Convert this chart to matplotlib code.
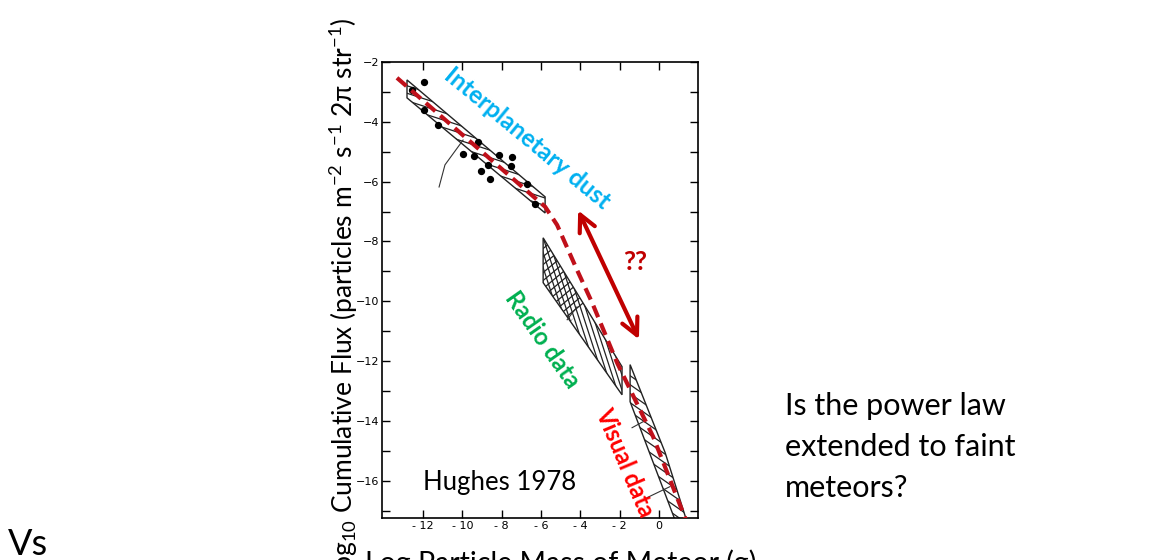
import numpy as np
import matplotlib
matplotlib.use("Agg")
import matplotlib.pyplot as plt
from matplotlib.patches import Polygon

plt.rcParams['font.family'] = ['Lato', 'DejaVu Sans']
plt.rcParams['mathtext.default'] = 'regular'

# hatched data regions (log mass, log flux)
dust_band = [(-12.81, -2.60), (-12.81, -3.20), (-5.79, -7.05), (-5.79, -6.51)]
radio_band = [(-5.89, -7.88), (-5.89, -9.38), (-1.88, -13.13), (-1.88, -12.19)]
radio_cross = [(-5.89, -7.88), (-5.89, -9.38), (-4.5, -10.68), (-3.8, -10.13)]
visual_band = [(-1.47, -12.12), (-1.47, -13.36), (0.92, -17.5), (1.48, -17.5), (0.31, -15.06)]

# measured points
dot_x = [-11.94, -12.55, -11.94, -11.23, -9.20, -9.96, -9.40, -8.69, -8.13, -7.47, -7.52, -9.05, -8.59, -6.71, -6.30]
dot_y = [-2.67, -2.94, -3.60, -4.10, -4.67, -5.07, -5.14, -5.44, -5.11, -5.17, -5.47, -5.64, -5.91, -6.08, -6.74]

# dashed power-law guide
fit_x = [-13.32, -5.79, -5.18, -4.17, -3.40, -2.13, -0.30, 1.22, 1.58]
fit_y = [-2.53, -6.84, -7.45, -8.95, -10.05, -12.06, -14.53, -17.07, -17.64]

# thin leader arcs from the scan
arc1_x = [-11.18, -10.88, -9.96]
arc1_y = [-6.18, -5.44, -4.61]
arc2_x = [-4.67, -4.17]
arc2_y = [-10.62, -10.19]
arc3_x = [-1.37, -0.81]
arc3_y = [-14.23, -14.03]
arc4_x = [-0.61, 0.56]
arc4_y = [-16.57, -16.20]

# double arrow ends
arrow_start = (-4.17, -6.88)
arrow_end = (-0.96, -11.36)

XLIM = (-14.08, 1.98)
YLIM = (-17.25, -2)
PX_X = 19.67   # pixels per unit along x
PX_Y = 29.93   # pixels per unit along y

fig = plt.figure(figsize=(11.51, 5.60), dpi=100)
ax = fig.add_axes([0.3319, 0.075, 0.2745, 0.8143])


def hatch(pts, angle, step_px, draw_edge=True):
    """fill a polygon with parallel strokes at a screen angle (degrees)"""
    patch = Polygon(pts, closed=True, facecolor='none',
                    edgecolor='#222222' if draw_edge else 'none', lw=1.0, zorder=2)
    ax.add_patch(patch)
    m = np.tan(np.radians(angle)) * PX_X / PX_Y
    xs = np.array([p[0] for p in pts])
    ys = np.array([p[1] for p in pts])
    cs = ys - m * xs
    x0, x1 = xs.min() - 1, xs.max() + 1
    for c in np.arange(cs.min(), cs.max(), step_px / PX_Y):
        ln, = ax.plot([x0, x1], [c + m * x0, c + m * x1], color='#222222', lw=0.9, zorder=2)
        ln.set_clip_path(patch)


hatch(dust_band, -18, 7.5)
hatch(radio_band, -72, 15)
hatch(radio_cross, 40, 8, draw_edge=False)
hatch(visual_band, -35, 9)

ax.scatter(dot_x, dot_y, s=18, color='black', zorder=3)
for arc_x, arc_y in [(arc1_x, arc1_y), (arc2_x, arc2_y), (arc3_x, arc3_y), (arc4_x, arc4_y)]:
    ax.plot(arc_x, arc_y, color='#333333', lw=0.8)

ax.plot(fit_x, fit_y, color='#c0101a', lw=3, linestyle=(0, (3, 1.6)), zorder=4)

ax.annotate('', xy=arrow_end, xytext=arrow_start,
            arrowprops=dict(arrowstyle='<->', color='#c00000', lw=3, mutation_scale=30))

ax.text(-1.22, -8.68, '??', color='#c00000', fontsize=19, fontweight='bold',
        ha='center', va='center')
ax.text(-6.71, -4.54, 'Interplanetary dust', color='#00b0f0', fontsize=17.5,
        fontweight='bold', rotation=-39.6, rotation_mode='anchor', ha='center', va='center')
ax.text(-5.95, -11.29, 'Radio data', color='#00b050', fontsize=17,
        fontweight='bold', rotation=-55, rotation_mode='anchor', ha='center', va='center')
ax.text(-1.73, -15.4, 'Visual data', color='#ff0000', fontsize=17,
        fontweight='bold', rotation=-67, rotation_mode='anchor', ha='center', va='center')
ax.text(-12.0, -16.3, 'Hughes 1978', fontsize=18.5, ha='left', va='baseline')

ax.set_xlim(*XLIM)
ax.set_ylim(*YLIM)
ax.set_xticks(np.arange(-12, 1, 2))
ax.set_yticks(np.arange(-16, -1, 2))
ax.set_yticks(np.arange(-17, -2, 2), minor=True)
ax.set_xticklabels(['- 12', '- 10', '- 8', '- 6', '- 4', '- 2', '0'])
ax.tick_params(which='both', direction='in', top=True, right=True, length=6, width=1,
               labelsize=8, labelfontfamily='DejaVu Sans', pad=2)
for s in ax.spines.values():
    s.set_linewidth(1.2)

fig.text(344 / 1151, 1 - 18 / 560,
         r'log$_{10}$ Cumulative Flux (particles m$^{-2}$ s$^{-1}$ 2π str$^{-1}$)',
         rotation=90, ha='center', va='top', fontsize=19)
fig.text(365 / 1151, 1 - 549 / 560, 'Log Particle Mass of Meteor (g)',
         ha='left', va='top', fontsize=20.5)
fig.text(8 / 1151, 1 - 555 / 560, 'Vs', ha='left', va='baseline', fontsize=26)
for line, base in [('Is the power law', 415), ('extended to faint', 456), ('meteors?', 497)]:
    fig.text(785 / 1151, 1 - base / 560, line, ha='left', va='baseline', fontsize=22)

fig.savefig('out.png', dpi=100)
